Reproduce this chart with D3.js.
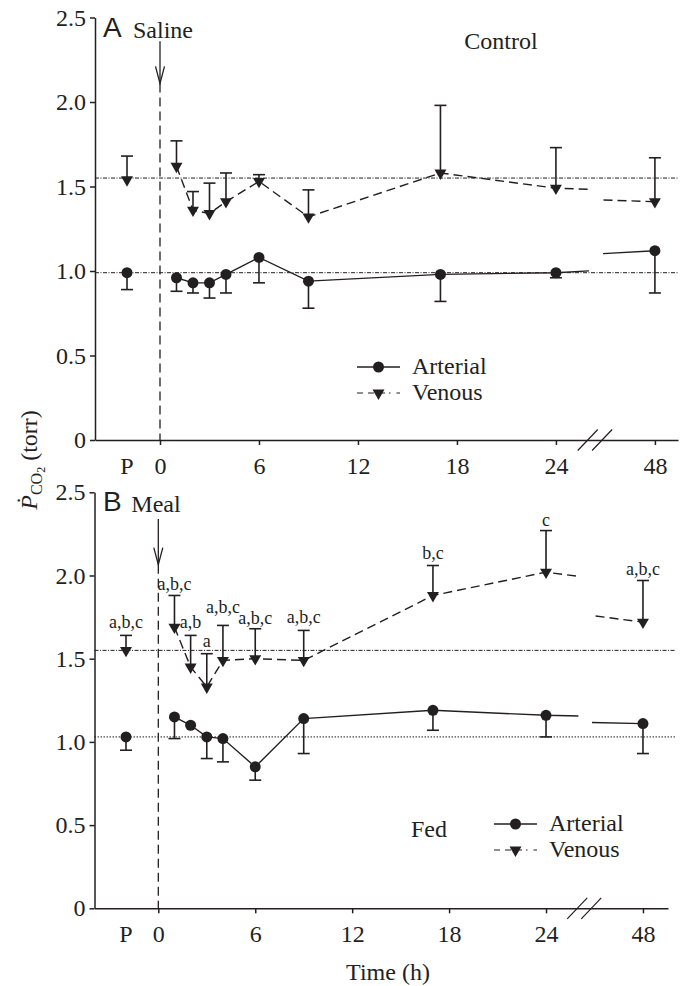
<!DOCTYPE html>
<html>
<head>
<meta charset="utf-8">
<script src="https://cdn.jsdelivr.net/npm/d3@7/dist/d3.min.js"></script>
<style>
  body { margin: 0; background: #fff; }
</style>
</head>
<body>
<div id="chart"></div>
<script>
const width = 688;
const height = 986;
const ink = "#231f20";
const serif = "'Liberation Serif', 'Times New Roman', 'DejaVu Serif', serif";
const sans = "'Liberation Sans', Arial, sans-serif";

// sampling times (h); -2 is the pre-treatment point "P"
const hours = [-2, 1, 2, 3, 4, 6, 9, 17, 24, 48];
const xTicks = [0, 6, 12, 18, 24, 48];
const yTicks = [0, 0.5, 1.0, 1.5, 2.0, 2.5];

// A: saline (control)
const salineArterial = [0.99, 0.96, 0.93, 0.93, 0.98, 1.08, 0.94, 0.98, 0.99, 1.12];
const salineArterialSE = [0.10, 0.08, 0.06, 0.09, 0.11, 0.15, 0.16, 0.16, 0.03, 0.25];
const salineVenous = [1.54, 1.62, 1.36, 1.34, 1.41, 1.53, 1.32, 1.58, 1.49, 1.41];
const salineVenousSE = [0.14, 0.15, 0.11, 0.18, 0.17, 0.04, 0.16, 0.40, 0.24, 0.26];
const salineRef = { arterial: 0.99, venous: 1.55 };

// B: meal (fed)
const fedArterial = [1.03, 1.15, 1.10, 1.03, 1.02, 0.85, 1.14, 1.19, 1.16, 1.11];
const fedArterialSE = [0.08, 0.13, 0, 0.13, 0.14, 0.08, 0.21, 0.12, 0.13, 0.18];
const fedVenous = [1.55, 1.69, 1.45, 1.33, 1.49, 1.50, 1.49, 1.88, 2.02, 1.72];
const fedVenousSE = [0.09, 0.19, 0.19, 0.20, 0.21, 0.18, 0.18, 0.18, 0.25, 0.25];
const fedRef = { arterial: 1.03, venous: 1.55 };
const fedLabels = ["a,b,c", "a,b,c", "a,b", "a", "a,b,c", "a,b,c", "a,b,c", "b,c", "c", "a,b,c"];

// the axis is broken after 26 h and resumes just before 48 h
const breakStart = 26, breakEnd = 44.85, breakShift = 18;
const eff = t => t > 24 ? t - breakShift : t;

const svg = d3.select("#chart").append("svg")
    .attr("width", width)
    .attr("height", height)
    .style("font-family", serif);

const defs = svg.append("defs");

const panels = [
    {
        id: "A", letter: "A", event: "Saline", group: "Control",
        left: 95, right: 678, refEnd: 678, top: 17.5, bottom: 440, xDomain: [-3.94, 31.4],
        arrow: [2.36, 2.11],
        arterial: salineArterial, arterialSE: salineArterialSE,
        venous: salineVenous, venousSE: salineVenousSE, ref: salineRef,
        groupPos: [501, 49], legendPos: [357, 367], labels: null
    },
    {
        id: "B", letter: "B", event: "Meal", group: "Fed",
        left: 94.5, right: 668, refEnd: 676, top: 492.3, bottom: 908.3, xDomain: [-3.95, 31.55],
        arrow: [2.34, 2.065],
        arterial: fedArterial, arterialSE: fedArterialSE,
        venous: fedVenous, venousSE: fedVenousSE, ref: fedRef,
        groupPos: [429, 837], legendPos: [494, 824], labels: fedLabels,
        labelGap: [7, 5, 7, 7, 12, 5, 7, 7, 5, 5]
    }
];

panels.forEach(drawPanel);

function drawPanel(p) {
    const x = d3.scaleLinear().domain(p.xDomain).range([p.left, p.right]);
    const y = d3.scaleLinear().domain([0, 2.5]).range([p.bottom, p.top]);
    const g = svg.append("g");

    const cut1 = x(breakStart), cut2 = x(breakEnd - breakShift);
    defs.append("clipPath").attr("id", "clip" + p.id + "a")
        .append("rect").attr("x", 0).attr("y", 0).attr("width", cut1).attr("height", height);
    defs.append("clipPath").attr("id", "clip" + p.id + "b")
        .append("rect").attr("x", cut2).attr("y", 0).attr("width", width - cut2).attr("height", height);

    // reference lines (pre-treatment means)
    g.append("line")
        .attr("x1", p.left).attr("x2", p.refEnd)
        .attr("y1", y(p.ref.venous)).attr("y2", y(p.ref.venous))
        .attr("stroke", ink).attr("stroke-width", 1)
        .attr("stroke-dasharray", "4,1.5,1,1.5");
    g.append("line")
        .attr("x1", p.left).attr("x2", p.refEnd)
        .attr("y1", y(p.ref.arterial)).attr("y2", y(p.ref.arterial))
        .attr("stroke", ink).attr("stroke-width", 1)
        .attr("stroke-dasharray", p.id === "A" ? "4,1.5,1,1.5" : "1.5,1.5");

    // treatment marker at t = 0
    g.append("line")
        .attr("x1", x(0)).attr("x2", x(0))
        .attr("y1", y(p.arrow[1])).attr("y2", p.bottom)
        .attr("stroke", ink).attr("stroke-width", 1.3)
        .attr("stroke-dasharray", "9,5");
    g.append("line")
        .attr("x1", x(0)).attr("x2", x(0))
        .attr("y1", y(p.arrow[0])).attr("y2", y(p.arrow[1]))
        .attr("stroke", ink).attr("stroke-width", 1.3);
    g.append("path")
        .attr("d", `M${x(0) - 4.5},${y(p.arrow[1]) - 17}L${x(0)},${y(p.arrow[1])}L${x(0) + 4.5},${y(p.arrow[1]) - 17}`)
        .attr("fill", "none").attr("stroke", ink).attr("stroke-width", 1.3);

    g.append("text")
        .attr("x", 103).attr("y", y(2.5) + 19)
        .attr("font-family", sans).attr("font-size", 28).attr("fill", ink)
        .text(p.letter);
    g.append("text")
        .attr("x", x(0) - 27).attr("y", y(2.5) + 20)
        .attr("font-size", 24).attr("fill", ink)
        .text(p.event);
    g.append("text")
        .attr("x", p.groupPos[0]).attr("y", p.groupPos[1])
        .attr("text-anchor", "middle")
        .attr("font-size", 24).attr("fill", ink)
        .text(p.group);

    // axes
    const yAxis = g.append("g")
        .attr("transform", `translate(${p.left},0)`)
        .call(d3.axisLeft(y).tickValues(yTicks).tickSize(5).tickSizeOuter(0).tickPadding(4)
            .tickFormat(d => d === 0 ? "0" : d3.format(".1f")(d)));
    const xAxis = g.append("g")
        .attr("transform", `translate(0,${p.bottom})`)
        .call(d3.axisBottom(x).tickValues(xTicks.map(eff)).tickSize(5).tickSizeOuter(0).tickPadding(12)
            .tickFormat((d, i) => String(xTicks[i])));
    [yAxis, xAxis].forEach(a => {
        a.attr("font-family", serif).attr("font-size", 24).attr("color", ink);
        a.selectAll("path, line").attr("stroke-width", 1.5);
    });
    g.append("text")
        .attr("x", x(hours[0])).attr("y", p.bottom + 34)
        .attr("text-anchor", "middle").attr("font-size", 24).attr("fill", ink)
        .text("P");

    // axis break
    [breakStart - 0.07, breakStart + 0.8].forEach(b => {
        g.append("line")
            .attr("x1", x(b) - 10).attr("y1", p.bottom + 10.5)
            .attr("x2", x(b) + 10).attr("y2", p.bottom - 10.5)
            .attr("stroke", ink).attr("stroke-width", 1.2);
    });

    const pts = key => hours.map((t, i) => ({ t, v: p[key][i], se: p[key + "SE"][i] }));
    const arterial = pts("arterial");
    const venous = pts("venous");

    // connecting lines, drawn either side of the break (P is not connected)
    const lineA = d3.line().x(d => x(d.t)).y(d => y(d.v));
    const lineB = d3.line().x(d => x(d.t - breakShift)).y(d => y(d.v));
    [["a", lineA], ["b", lineB]].forEach(([s, ln]) => {
        g.append("path")
            .attr("d", ln(venous.slice(1)))
            .attr("clip-path", `url(#clip${p.id}${s})`)
            .attr("fill", "none").attr("stroke", ink).attr("stroke-width", 1.4)
            .attr("stroke-dasharray", "9,5");
        g.append("path")
            .attr("d", ln(arterial.slice(1)))
            .attr("clip-path", `url(#clip${p.id}${s})`)
            .attr("fill", "none").attr("stroke", ink).attr("stroke-width", 1.4);
    });

    // error bars: venous up, arterial down
    const bar = (d, dir) => {
        if (!d.se) return;
        const cx = x(eff(d.t)), y2 = y(d.v + dir * d.se);
        g.append("line").attr("x1", cx).attr("x2", cx).attr("y1", y(d.v)).attr("y2", y2)
            .attr("stroke", ink).attr("stroke-width", 1.6);
        g.append("line").attr("x1", cx - 6).attr("x2", cx + 6).attr("y1", y2).attr("y2", y2)
            .attr("stroke", ink).attr("stroke-width", 1.6);
    };
    venous.forEach(d => bar(d, 1));
    arterial.forEach(d => bar(d, -1));

    // markers
    g.selectAll(".art").data(arterial).enter().append("circle")
        .attr("cx", d => x(eff(d.t))).attr("cy", d => y(d.v)).attr("r", 5.5)
        .attr("fill", ink);
    const tri = d3.symbol().type(d3.symbolTriangle).size(62);
    g.selectAll(".ven").data(venous).enter().append("path")
        .attr("d", tri)
        .attr("transform", d => `translate(${x(eff(d.t))},${y(d.v)}) rotate(180)`)
        .attr("fill", ink);

    // significance letters
    if (p.labels) {
        g.selectAll(".sig").data(venous).enter().append("text")
            .attr("x", d => x(eff(d.t))).attr("y", (d, i) => y(d.v + d.se) - p.labelGap[i])
            .attr("text-anchor", "middle").attr("font-size", 18).attr("fill", ink)
            .text((d, i) => p.labels[i]);
    }

    // legend
    const [lx, ly] = p.legendPos;
    const leg = g.append("g").attr("transform", `translate(${lx},${ly})`);
    leg.append("line").attr("x1", 0).attr("x2", 43).attr("y1", 0).attr("y2", 0)
        .attr("stroke", ink).attr("stroke-width", 1.4);
    leg.append("circle").attr("cx", 21.5).attr("cy", 0).attr("r", 5.5).attr("fill", ink);
    leg.append("text").attr("x", 55).attr("y", 7).attr("font-size", 24).attr("fill", ink).text("Arterial");
    leg.append("line").attr("x1", 0).attr("x2", 43).attr("y1", 26).attr("y2", 26)
        .attr("stroke", ink).attr("stroke-width", 1.2).attr("stroke-dasharray", "6,5,6,5,6,4,1.5");
    leg.append("path").attr("d", tri).attr("transform", "translate(21.5,26) rotate(180)").attr("fill", ink);
    leg.append("text").attr("x", 55).attr("y", 33).attr("font-size", 24).attr("fill", ink).text("Venous");
}

// shared axis titles
svg.append("text")
    .attr("x", 388).attr("y", 980)
    .attr("text-anchor", "middle").attr("font-size", 24).attr("fill", ink)
    .text("Time (h)");

const yTitle = svg.append("text")
    .attr("transform", "translate(37,460) rotate(-90)")
    .attr("text-anchor", "middle").attr("font-size", 24).attr("fill", ink);
yTitle.append("tspan").attr("font-style", "italic").text("\u1E56");
yTitle.append("tspan").attr("font-size", 16).attr("dy", 5).text("CO");
yTitle.append("tspan").attr("font-size", 12).attr("dy", 3).text("2");
yTitle.append("tspan").attr("dy", -8).text(" (torr)");
</script>
</body>
</html>
